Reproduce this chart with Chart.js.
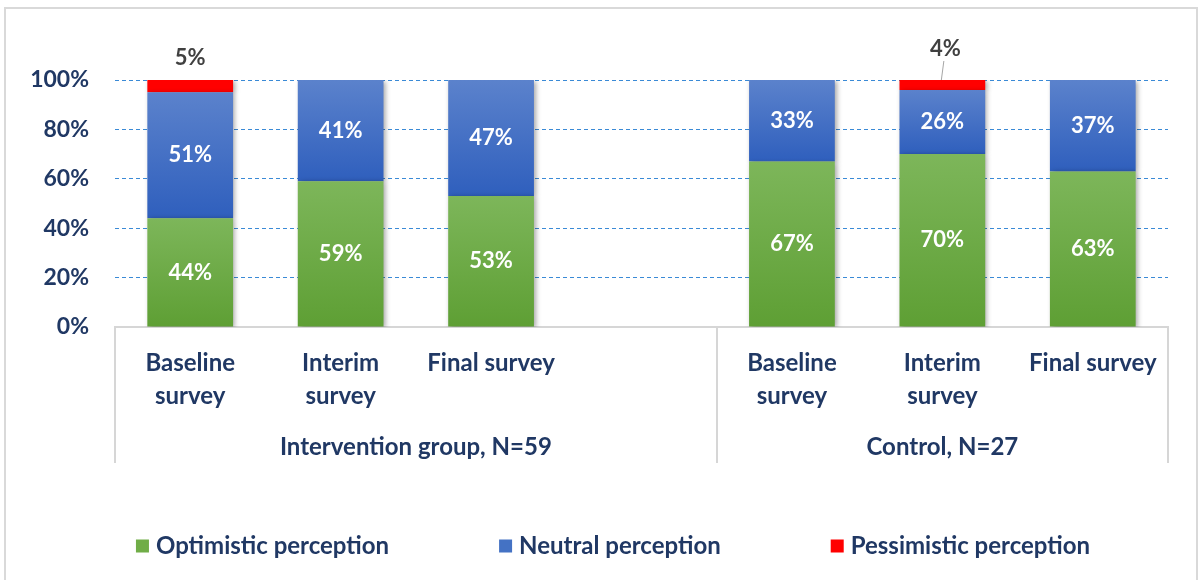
<!DOCTYPE html>
<html>
<head>
<meta charset="utf-8">
<title>Perception by survey wave</title>
<script src="https://cdn.jsdelivr.net/npm/chart.js@4.4.1/dist/chart.umd.min.js"></script>
<style>
  html, body { margin: 0; padding: 0; background: #fff; }
  #wrap { width: 1200px; height: 580px; }
</style>
</head>
<body>
<div id="wrap"><canvas id="surveyChart" width="1200" height="580"></canvas></div>
<script>
// survey waves per group; the blank slot separates the two groups
const categories = [
    ['Baseline', 'survey'], ['Interim', 'survey'], 'Final survey', '',
    ['Baseline', 'survey'], ['Interim', 'survey'], 'Final survey'
];
const groupNames = ['Intervention group, N=59', 'Control, N=27'];
const groupFirstIndex = [0, 4];
const optimistic = [44, 59, 53, null, 67, 70, 63];
const neutral = [51, 41, 47, null, 33, 26, 37];
const pessimistic = [5, 0, 0, null, 0, 4, 0];
const yTicks = [0, 20, 40, 60, 80, 100];

const FONT = 'Lato';
const NAVY = '#203864';

// light-to-dark vertical fill for one stacked segment
function segmentFill(top, bottom) {
    return function (context) {
        const chart = context.chart;
        const y = chart.scales.y;
        if (!y || context.raw == null) return bottom;
        let start = 0;
        for (let d = 0; d < context.datasetIndex; d++) {
            start += chart.data.datasets[d].data[context.dataIndex] || 0;
        }
        const y0 = y.getPixelForValue(start);
        const y1 = y.getPixelForValue(start + context.raw);
        if (!isFinite(y0) || !isFinite(y1) || y0 === y1) return bottom;
        const g = chart.ctx.createLinearGradient(0, y1, 0, y0);
        g.addColorStop(0, top);
        g.addColorStop(1, bottom);
        return g;
    };
}

const series = [
    { label: 'Optimistic perception', data: optimistic, top: '#7db65a', bottom: '#5e9f34', swatch: '#70ad47' },
    { label: 'Neutral perception', data: neutral, top: '#5b82cc', bottom: '#2f5fbd', swatch: '#4472c4' },
    { label: 'Pessimistic perception', data: pessimistic, top: '#ff0000', bottom: '#ff0000', swatch: '#ff0000' }
];

// the small callout over the control group's interim bar sits a little higher, with a leader
const calloutLift = { 5: { dx: 3, dy: -9, leader: true } };

const surveyDecor = {
    id: 'surveyDecor',
    beforeDraw(chart) {
        const ctx = chart.ctx;
        ctx.save();
        ctx.fillStyle = '#fff';
        ctx.fillRect(0, 0, chart.width, chart.height);
        ctx.strokeStyle = '#d9d9d9';
        ctx.lineWidth = 2;
        ctx.strokeRect(5, 8, 1192, 600);
        ctx.restore();
    },
    beforeDatasetsDraw(chart) {
        const ctx = chart.ctx;
        ctx.save();
        ctx.shadowColor = 'rgba(0,0,0,0.35)';
        ctx.shadowBlur = 5;
        ctx.shadowOffsetX = 2;
        ctx.shadowOffsetY = 1;
    },
    afterDatasetsDraw(chart) {
        chart.ctx.restore();
    },
    afterDraw(chart) {
        const ctx = chart.ctx;
        const x = chart.scales.x;
        const area = chart.chartArea;
        const axisBottom = 463;

        // group separators below the category axis
        const splits = [x.left];
        for (let g = 1; g < groupFirstIndex.length; g++) {
            const i = groupFirstIndex[g];
            splits.push((x.getPixelForValue(i - 1) + x.getPixelForValue(i)) / 2);
        }
        splits.push(x.right);
        ctx.save();
        ctx.strokeStyle = '#d6d6d6';
        ctx.lineWidth = 2;
        splits.forEach(px => {
            ctx.beginPath();
            ctx.moveTo(Math.round(px), area.bottom);
            ctx.lineTo(Math.round(px), axisBottom);
            ctx.stroke();
        });

        // group names
        ctx.fillStyle = NAVY;
        ctx.font = 'bold 24px ' + FONT;
        ctx.textAlign = 'center';
        ctx.textBaseline = 'middle';
        groupNames.forEach((name, g) => {
            ctx.fillText(name, (splits[g] + splits[g + 1]) / 2, 447);
        });

        // value labels
        ctx.font = 'bold 22px ' + FONT;
        chart.data.datasets.forEach((ds, di) => {
            const meta = chart.getDatasetMeta(di);
            meta.data.forEach((bar, i) => {
                const v = ds.data[i];
                if (!v) return;
                const text = v + '%';
                if (di < 2) {
                    ctx.fillStyle = '#ffffff';
                    ctx.fillText(text, bar.x, (bar.y + bar.base) / 2);
                } else {
                    const lift = calloutLift[i] || { dx: 0, dy: 0 };
                    const ty = bar.y - 22 + lift.dy;
                    if (lift.leader) {
                        ctx.strokeStyle = '#a6a6a6';
                        ctx.lineWidth = 1;
                        ctx.beginPath();
                        ctx.moveTo(bar.x - 1, bar.y);
                        ctx.lineTo(bar.x + 1.5, ty + 12);
                        ctx.stroke();
                    }
                    ctx.fillStyle = '#404040';
                    ctx.fillText(text, bar.x + lift.dx, ty);
                }
            });
        });

        // legend row
        ctx.font = 'bold 24px ' + FONT;
        ctx.textAlign = 'left';
        const box = 13, gapText = 7, gapItem = 110;
        const widths = series.map(s => box + gapText + ctx.measureText(s.label).width);
        const total = widths.reduce((a, b) => a + b, 0) + gapItem * (series.length - 1);
        let lx = 613 - total / 2;
        const ly = 546;
        series.forEach((s, k) => {
            ctx.fillStyle = s.swatch;
            ctx.fillRect(lx, ly - box / 2, box, box);
            ctx.fillStyle = NAVY;
            ctx.fillText(s.label, lx + box + gapText, ly);
            lx += widths[k] + gapItem;
        });
        ctx.restore();
    }
};

new Chart(document.getElementById('surveyChart'), {
    type: 'bar',
    data: {
        labels: categories,
        datasets: series.map(s => ({
            label: s.label,
            data: s.data,
            backgroundColor: segmentFill(s.top, s.bottom),
            borderWidth: 0,
            barPercentage: 0.57,
            categoryPercentage: 1.0
        }))
    },
    options: {
        responsive: false,
        animation: false,
        devicePixelRatio: 1,
        layout: { padding: { top: 80, right: 32, left: 0, bottom: 0 } },
        plugins: {
            legend: { display: false },
            tooltip: { enabled: false }
        },
        scales: {
            x: {
                stacked: true,
                grid: { display: false },
                border: { display: true, color: '#d6d6d6', width: 2 },
                ticks: {
                    color: NAVY,
                    font: { family: FONT, size: 24, weight: 'bold', lineHeight: 1.375 },
                    padding: 12,
                    maxRotation: 0,
                    autoSkip: false
                },
                afterFit(scale) { scale.height = 253; }
            },
            y: {
                stacked: true,
                min: 0,
                max: 100,
                afterBuildTicks(scale) { scale.ticks = yTicks.map(v => ({ value: v })); },
                grid: {
                    color: c => (c.tick && c.tick.value === 0) ? 'rgba(0,0,0,0)' : '#3a8ad6',
                    lineWidth: 1,
                    drawTicks: false
                },
                border: { display: false, dash: [4, 3] },
                ticks: {
                    color: NAVY,
                    font: { family: FONT, size: 23, weight: 'bold' },
                    padding: 26,
                    callback: v => v + '%'
                },
                afterFit(scale) { scale.width = 115; }
            }
        }
    },
    plugins: [surveyDecor]
});
</script>
</body>
</html>
